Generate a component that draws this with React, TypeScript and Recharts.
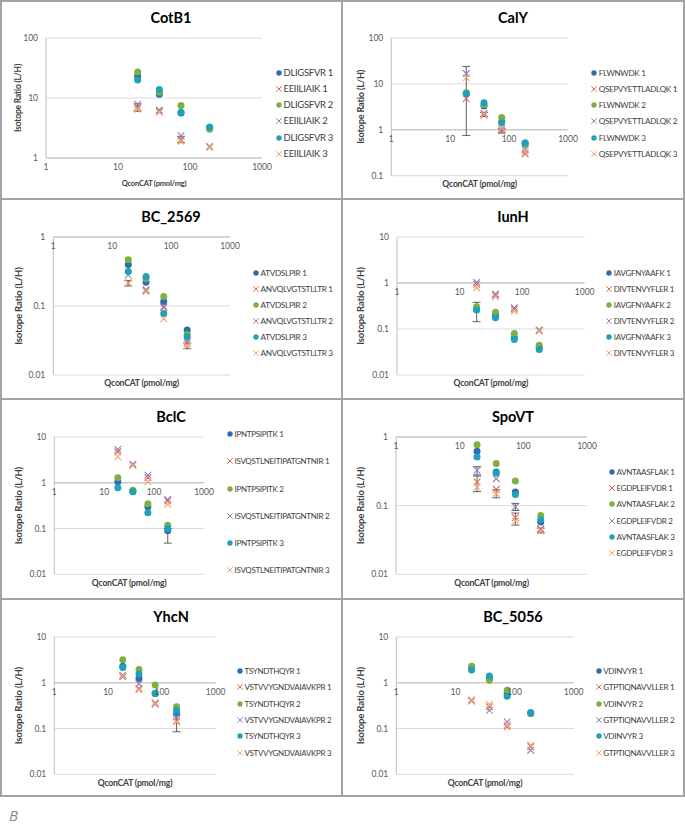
import React from 'react';
import { ScatterChart, Scatter, XAxis, YAxis, CartesianGrid, ReferenceLine, ReferenceDot, ErrorBar } from 'recharts';

// QconCAT amounts (pmol/mg) shared by every panel
const qconcat = [18.75, 37.5, 75, 187.5];
const xTicks = [1, 10, 100, 1000];

// series order: circle 1, cross 1, circle 2, cross 2, circle 3, cross 3
const seriesColors = ['#2D6CB3', '#E0695A', '#7DAF42', '#8E80BE', '#1EA1BA', '#F4A46F'];

// errors: [series, point, low, high]
const cotB1Peptides = ['DLIGSFVR', 'EEIILIAIK'];
const cotB1Ratios = [
  [23, 11.5, 5.6, 3.2],
  [7.0, 6.0, 2.0, 1.52],
  [27, 12.5, 7.5, 3.0],
  [7.9, 6.3, 2.35, 1.56],
  [20, 13.9, 5.8, 3.3],
  [6.5, 5.8, 1.9, 1.5],
];
const cotB1Errors = [[1, 0, 6.0, 8.0], [1, 2, 1.8, 2.3]];

const calYPeptides = ['FLWNWDK', 'QSEPVYETTLADLQK'];
const calYRatios = [
  [6.0, 3.3, 1.5, 0.5],
  [4.8, 2.1, 0.95, 0.3],
  [6.4, 3.5, 1.85, 0.48],
  [16.8, 2.3, 1.05, 0.37],
  [6.2, 3.9, 1.4, 0.52],
  [13.7, 2.2, 1.1, 0.33],
];
const calYErrors = [[5, 0, 0.75, 24], [1, 1, 1.95, 2.4], [1, 2, 0.85, 1.05]];

const bc2569Peptides = ['ATVDSLPIR', 'ANVQLVGTSTLLTR'];
const bc2569Ratios = [
  [0.40, 0.22, 0.116, 0.045],
  [0.215, 0.168, 0.095, 0.029],
  [0.468, 0.25, 0.137, 0.0386],
  [0.28, 0.172, 0.098, 0.031],
  [0.316, 0.267, 0.078, 0.0357],
  [0.214, 0.162, 0.065, 0.0266],
];
const bc2569Errors = [[5, 0, 0.195, 0.235], [5, 3, 0.024, 0.029]];

const iunHPeptides = ['IAVGFNYAAFK', 'DIVTENVYFLER'];
const iunHRatios = [
  [0.27, 0.2, 0.065, 0.04],
  [0.94, 0.55, 0.27, 0.093],
  [0.305, 0.23, 0.08, 0.0446],
  [1.03, 0.576, 0.29, 0.095],
  [0.258, 0.176, 0.059, 0.0359],
  [0.79, 0.5, 0.245, 0.09],
];
const iunHErrors = [[4, 0, 0.144, 0.38]];

const bclCPeptides = ['IPNTPSIPITK', 'ISVQSTLNEITIPATGNTNIR'];
const bclCRatios = [
  [1.05, 0.65, 0.30, 0.089],
  [4.75, 2.45, 1.3, 0.40],
  [1.29, 0.69, 0.35, 0.118],
  [5.35, 2.56, 1.47, 0.43],
  [0.78, 0.64, 0.22, 0.10],
  [3.7, 2.4, 1.05, 0.34],
];
const bclCErrors = [[0, 3, 0.048, 0.1]];

const spoVTPeptides = ['AVNTAASFLAK', 'EGDPLEIFVDR'];
const spoVTRatios = [
  [0.62, 0.31, 0.158, 0.0576],
  [0.221, 0.173, 0.067, 0.046],
  [0.77, 0.41, 0.229, 0.072],
  [0.327, 0.247, 0.096, 0.045],
  [0.51, 0.30, 0.145, 0.0625],
  [0.187, 0.15, 0.06, 0.043],
];
const spoVTErrors = [[1, 0, 0.16, 0.27], [3, 0, 0.28, 0.37], [5, 1, 0.13, 0.17], [1, 2, 0.052, 0.078], [3, 2, 0.085, 0.108], [5, 3, 0.04, 0.047]];

const yhcNPeptides = ['TSYNDTHQYR', 'VSTVVYGNDVAIAVKPR'];
const yhcNRatios = [
  [2.3, 1.24, 0.58, 0.21],
  [1.35, 0.75, 0.365, 0.148],
  [3.2, 1.95, 0.89, 0.30],
  [1.47, 0.95, 0.34, 0.18],
  [2.16, 1.55, 0.58, 0.25],
  [1.4, 0.7, 0.35, 0.14],
];
const yhcNErrors = [[1, 3, 0.085, 0.2]];

const bc5056Peptides = ['VDINVYR', 'GTPTIQNAVVLLER'];
const bc5056Ratios = [
  [2.1, 1.25, 0.58, 0.22],
  [0.40, 0.30, 0.11, 0.04],
  [2.3, 1.14, 0.69, 0.21],
  [0.42, 0.25, 0.14, 0.0336],
  [1.9, 1.4, 0.51, 0.22],
  [0.41, 0.336, 0.12, 0.043],
];
const bc5056Errors: number[][] = [];

const PANEL_W = 342;
const PANEL_H = 199;
const FONT = 'Lato, "Open Sans", sans-serif';

// the sub-charts were pasted at slightly different scales, hence per-panel font sizes
const panels = [
  { title: 'CotB1', peptides: cotB1Peptides, ratios: cotB1Ratios, errors: cotB1Errors, yDomain: [1, 100], yTicks: [1, 10, 100],
    col: 0, row: 0, plotLeft: 46, plotRight: 262, plotBottom: 158, legendX: 279, legendTop: 72.7, legendStep: 16.2,
    legendFont: 9.5, xLabelFont: 7.5, yLabelFont: 8.5 },
  { title: 'CalY', peptides: calYPeptides, ratios: calYRatios, errors: calYErrors, yDomain: [0.1, 100], yTicks: [0.1, 1, 10, 100],
    col: 1, row: 0, plotLeft: 49.3, plotRight: 226, plotBottom: 175.7, legendX: 252.3, legendTop: 72.7, legendStep: 16.2,
    legendFont: 8.1, xLabelFont: 8.6, yLabelFont: 9.2 },
  { title: 'BC_2569', peptides: bc2569Peptides, ratios: bc2569Ratios, errors: bc2569Errors, yDomain: [0.01, 1], yTicks: [0.01, 0.1, 1],
    col: 0, row: 1, plotLeft: 53.3, plotRight: 230, plotBottom: 176, legendX: 256, legendTop: 74.3, legendStep: 15.9,
    legendFont: 8.2, xLabelFont: 8.6, yLabelFont: 9.6 },
  { title: 'IunH', peptides: iunHPeptides, ratios: iunHRatios, errors: iunHErrors, yDomain: [0.01, 10], yTicks: [0.01, 0.1, 1, 10],
    col: 1, row: 1, plotLeft: 55, plotRight: 242.7, plotBottom: 176, legendX: 267.3, legendTop: 74.3, legendStep: 15.9,
    legendFont: 8, xLabelFont: 8.6, yLabelFont: 9.6 },
  { title: 'BclC', peptides: bclCPeptides, ratios: bclCRatios, errors: bclCErrors, yDomain: [0.01, 10], yTicks: [0.01, 0.1, 1, 10],
    col: 0, row: 2, plotLeft: 54.3, plotRight: 204, plotBottom: 175.3, legendX: 230, legendTop: 35.3, legendStep: 27.1,
    legendFont: 8, xLabelFont: 8.6, yLabelFont: 9.6 },
  { title: 'SpoVT', peptides: spoVTPeptides, ratios: spoVTRatios, errors: spoVTErrors, yDomain: [0.01, 1], yTicks: [0.01, 0.1, 1],
    col: 1, row: 2, plotLeft: 54, plotRight: 245, plotBottom: 175.3, legendX: 270, legendTop: 72.7, legendStep: 16.3,
    legendFont: 8, xLabelFont: 8.6, yLabelFont: 9.6 },
  { title: 'YhcN', peptides: yhcNPeptides, ratios: yhcNRatios, errors: yhcNErrors, yDomain: [0.01, 10], yTicks: [0.01, 0.1, 1, 10],
    col: 0, row: 3, plotLeft: 54.3, plotRight: 215.7, plotBottom: 175.3, legendX: 240, legendTop: 72, legendStep: 16.3,
    legendFont: 8, xLabelFont: 8.6, yLabelFont: 9.6 },
  { title: 'BC_5056', peptides: bc5056Peptides, ratios: bc5056Ratios, errors: bc5056Errors, yDomain: [0.01, 10], yTicks: [0.01, 0.1, 1, 10],
    col: 1, row: 3, plotLeft: 54.3, plotRight: 231.7, plotBottom: 175.3, legendX: 256.7, legendTop: 72, legendStep: 16.3,
    legendFont: 8.1, xLabelFont: 8.6, yLabelFont: 9.6 },
];

const rowTops = [0, 199, 399, 599];
const colLefts = [0, 342];

const makeCircle = (color: string) => (props: any) => (
  <circle cx={props.cx} cy={props.cy} r={3.5} fill={color} />
);

const makeCross = (color: string) => (props: any) => {
  const { cx, cy } = props;
  const s = 3.3;
  return (
    <path d={`M${cx - s},${cy - s}L${cx + s},${cy + s}M${cx - s},${cy + s}L${cx + s},${cy - s}`}
      stroke={color} strokeWidth={1.1} fill="none" />
  );
};

const LegendMarker = ({ i }: { i: number }) => (
  <svg width={8} height={8} style={{ position: 'absolute', left: -4, top: -4 }}>
    {i % 2 === 0
      ? <circle cx={4} cy={4} r={2.7} fill={seriesColors[i]} />
      : <path d="M1.3,1.3L6.7,6.7M1.3,6.7L6.7,1.3" stroke={seriesColors[i]} strokeWidth={1} />}
  </svg>
);

const Panel = ({ p }: { p: any }) => {
  const names = [0, 1, 2, 3, 4, 5].map(i => `${p.peptides[i % 2]} ${Math.floor(i / 2) + 1}`);
  const seriesData = p.ratios.map((vals: number[], si: number) =>
    vals.map((y, i) => {
      const e = p.errors.find((r: number[]) => r[0] === si && r[1] === i);
      return { x: qconcat[i], y, err: e ? [y - e[2], e[3] - y] : undefined };
    })
  );
  const left = colLefts[p.col];
  const top = rowTops[p.row];
  const plotCenter = (p.plotLeft + p.plotRight) / 2;

  return (
    <div style={{ position: 'absolute', left, top, width: PANEL_W, height: PANEL_H }}>
      <div style={{ position: 'absolute', left: 0, width: PANEL_W, top: 18 - 10, lineHeight: '20px', textAlign: 'center',
        fontSize: 14.5, fontWeight: 700, color: '#000' }}>{p.title}</div>
      <ScatterChart width={PANEL_W} height={PANEL_H}
        margin={{ top: 38, right: PANEL_W - p.plotRight, bottom: PANEL_H - p.plotBottom, left: 0 }}>
        <CartesianGrid vertical={false} stroke="#d9d9d9" />
        <XAxis type="number" dataKey="x" scale="log" domain={[1, 1000]} allowDataOverflow hide />
        <YAxis type="number" dataKey="y" scale="log" domain={p.yDomain} ticks={p.yTicks} interval={0} allowDataOverflow
          width={p.plotLeft} axisLine={{ stroke: '#bfbfbf' }} tickLine={false}
          tick={{ fontSize: 8.5, fill: '#595959' }} tickFormatter={(v: number) => String(v)}
          label={{ value: 'Isotope Ratio (L/H)', angle: -90, position: 'insideLeft', offset: 18.3,
            style: { textAnchor: 'middle', fontWeight: 700, fontSize: p.yLabelFont, letterSpacing: -0.2, fill: '#404040' } }} />
        <ReferenceLine y={1} stroke="#bfbfbf" ifOverflow="visible" />
        {xTicks.map(v => (
          <ReferenceDot key={v} x={v} y={1} r={0} fill="none" stroke="none" ifOverflow="visible"
            label={{ value: String(v), position: 'bottom', offset: 6, fill: '#595959', fontSize: 8.5 }} />
        ))}
        {seriesData.map((d: any[], si: number) => (
          <Scatter key={si} name={names[si]} data={d} isAnimationActive={false}
            shape={si % 2 === 0 ? makeCircle(seriesColors[si]) : makeCross(seriesColors[si])}>
            <ErrorBar dataKey="err" direction="y" width={4} stroke="#3a3a3a" strokeWidth={0.8} />
          </Scatter>
        ))}
      </ScatterChart>
      <div style={{ position: 'absolute', left: 0, top: 183.5 - 6, width: 0, height: 12 }}>
        <div style={{ position: 'absolute', left: plotCenter - 80, width: 160, textAlign: 'center', lineHeight: '12px',
          fontSize: p.xLabelFont, letterSpacing: -0.2, fontWeight: 700, color: '#404040' }}>QconCAT (pmol/mg)</div>
      </div>
      {names.map((n, i) => (
        <div key={n} style={{ position: 'absolute', left: p.legendX, top: p.legendTop + i * p.legendStep }}>
          <LegendMarker i={i} />
          <div style={{ position: 'absolute', left: 4.5, top: -6, lineHeight: '12px', whiteSpace: 'nowrap',
            fontSize: p.legendFont, letterSpacing: -0.3, color: '#404040' }}>{n}</div>
        </div>
      ))}
    </div>
  );
};

export default function App() {
  return (
    <div style={{ position: 'absolute', left: 0, top: 0, width: 685, height: 835, background: '#fff', fontFamily: FONT }}>
      {panels.map(p => <Panel key={p.title} p={p} />)}
      <div style={{ position: 'absolute', left: 0, top: 0, width: 685, height: 797, boxSizing: 'border-box',
        border: '2px solid #a3a3a3' }} />
      <div style={{ position: 'absolute', left: 341, top: 0, width: 2, height: 797, background: '#a3a3a3' }} />
      {[198, 398, 598].map(y => (
        <div key={y} style={{ position: 'absolute', left: 0, top: y, width: 685, height: 2, background: '#a3a3a3' }} />
      ))}
      <div style={{ position: 'absolute', left: 9, top: 805, fontSize: 15, fontStyle: 'italic', color: '#8a8a8a',
        fontFamily: '"Open Sans", sans-serif' }}>B</div>
    </div>
  );
}
